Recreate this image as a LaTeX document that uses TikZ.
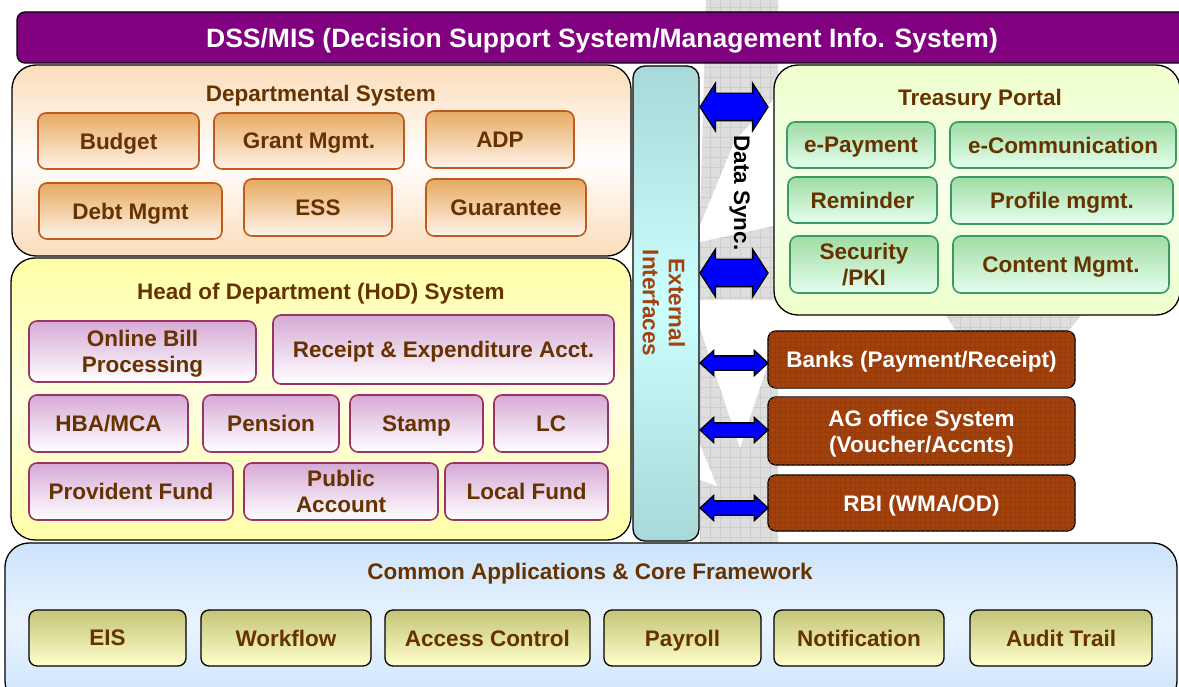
\documentclass[tikz,border=0pt]{standalone}
\usepackage{fontspec}
\setmainfont{Liberation Sans}
\usetikzlibrary{shapes.arrows,patterns.meta}
\definecolor{txtbrown}{HTML}{663300}
\definecolor{purplebar}{HTML}{800080}
\definecolor{deptfill}{HTML}{FBDDBA}
\definecolor{depttop}{HTML}{E6AA62}
\definecolor{deptbot}{HTML}{FFF4EA}
\definecolor{deptline}{HTML}{BF5A1E}
\definecolor{hodfill}{HTML}{FFFFA8}
\definecolor{hodtop}{HTML}{D6AAD6}
\definecolor{hodline}{HTML}{993366}
\definecolor{extfill}{HTML}{A8D8D8}
\definecolor{extmid}{HTML}{CCFFFF}
\definecolor{exttext}{HTML}{A3420F}
\definecolor{portalfill}{HTML}{EEFFCC}
\definecolor{tptop}{HTML}{9FDCA2}
\definecolor{tpbot}{HTML}{E6FFEE}
\definecolor{tpline}{HTML}{3A9966}
\definecolor{brownbox}{HTML}{A3410D}
\definecolor{browngrid}{HTML}{953A0B}
\definecolor{corefill}{HTML}{CCE3FA}
\definecolor{coremid}{HTML}{EAF4FF}
\definecolor{cbtop}{HTML}{C4C478}
\definecolor{cbbot}{HTML}{FFFFCC}
\definecolor{bandgrey}{HTML}{DEDEDE}
\definecolor{bandgrid}{HTML}{CDCDCD}

\begin{document}
\begin{tikzpicture}[x=1pt,y=-1pt,
  every node/.style={font=\fontsize{22.5}{26}\selectfont\bfseries,text=txtbrown,align=center,
    inner sep=0pt,text depth=0pt},
  sz/.style 2 args={minimum width=#1pt,minimum height=#2pt},
  panel/.style={draw=black,line width=1.3pt,rounded corners=24pt},
  deptbox/.style={draw=deptline,line width=1.6pt,rounded corners=8pt,top color=depttop,bottom color=deptbot},
  hodbox/.style={draw=hodline,line width=1.6pt,rounded corners=8pt,top color=hodtop,bottom color=white},
  tpbox/.style={draw=tpline,line width=1.6pt,rounded corners=8pt,top color=tptop,bottom color=tpbot},
  corebox/.style={draw=black,line width=1.3pt,rounded corners=8pt,top color=cbtop,bottom color=cbbot},
  outbox/.style={draw=black,line width=1.3pt,rounded corners=8pt,fill=brownbox,text=white,
    postaction={pattern={Hatch[angle=0,distance=5pt,line width=0.4pt]},pattern color=browngrid}},
  bigsync/.style={double arrow,draw=black,fill=blue,line width=1.3pt,minimum height=68pt,
    inner xsep=0pt,inner ysep=13pt,minimum width=46pt,double arrow head extend=10pt,double arrow tip angle=114},
  smallsync/.style={double arrow,draw=black,fill=blue,line width=1.3pt,minimum height=68pt,
    inner xsep=0pt,inner ysep=6.5pt,minimum width=24pt,double arrow head extend=5.5pt,double arrow tip angle=85},
  greyband/.style={fill=bandgrey,postaction={pattern={Hatch[angle=0,distance=10pt,line width=0.7pt]},pattern color=bandgrid}}]

\useasboundingbox (0,0) rectangle (1179,687);
\clip (0,0) rectangle (1179,687);

% background ribbon
\path[greyband] (706,0) -- (778,0) -- (778,95) -- (735,140) -- (700,225) -- cycle;
\path[greyband] (945,314) -- (1082,314) -- (1066,334) -- (958,334) -- cycle;
\path[greyband] (700,242) -- (778,225) -- (778,545) -- (700,545) -- cycle;
\fill[white] (700,300) -- (778,300) -- (778,333) -- (740,448) -- (700,328) -- cycle;
\fill[white] (700,445) -- (717,486) -- (700,480) -- cycle;

\node[panel,rounded corners=8pt,fill=purplebar,sz={1170}{51},text=white,
  font=\fontsize{26.5}{30}\selectfont\bfseries] (dss) at (602,37.5)
  {DSS/MIS (Decision Support System/Management Info. System)};

\node[panel,sz={619}{191},top color=deptfill,bottom color=deptfill,middle color=white] (dept) at (321.5,160.5) {};
\node (depttitle) at (321,93) {Departmental System};
\node[deptbox,sz={161}{56}] (budget) at (118.5,141) {Budget};
\node[deptbox,sz={190}{56}] (grant) at (309,141) {Grant Mgmt.};
\node[deptbox,sz={148}{57}] (adp) at (500,139.5) {ADP};
\node[deptbox,sz={183}{56}] (debt) at (130.5,211) {Debt Mgmt};
\node[deptbox,sz={148}{57}] (ess) at (318,207.5) {ESS};
\node[deptbox,sz={160}{57}] (guarantee) at (506,207.5) {Guarantee};

\node[panel,sz={620}{282},top color=hodfill,bottom color=hodfill,middle color=yellow!12] (hod) at (321,399) {};
\node (hodtitle) at (321,291) {Head of Department (HoD) System};
\node[hodbox,sz={227}{61}] (bill) at (142.5,351.5) {Online Bill\\Processing};
\node[hodbox,sz={341}{69}] (receipt) at (443.5,349.5) {Receipt \& Expenditure Acct.};
\node[hodbox,sz={159}{57}] (hba) at (108.5,423.5) {HBA/MCA};
\node[hodbox,sz={136}{57}] (pension) at (271,423.5) {Pension};
\node[hodbox,sz={133}{57}] (stamp) at (416.5,423.5) {Stamp};
\node[hodbox,sz={114}{57}] (lc) at (551,423.5) {LC};
\node[hodbox,sz={204}{57}] (pf) at (131,491.5) {Provident Fund};
\node[hodbox,sz={194}{57}] (public) at (341,491.5) {Public\\Account};
\node[hodbox,sz={163}{57}] (localfund) at (526.5,491.5) {Local Fund};

\node[panel,rounded corners=12pt,sz={66}{475},top color=extfill,bottom color=extfill,middle color=extmid] (ext) at (666,303.5) {};
\node[rotate=-90,text=exttext] (extlabel) at (664,303) {External\\Interfaces};

\node[panel,sz={406}{250},top color=portalfill,bottom color=portalfill,middle color=portalfill!40] (portal) at (977,190) {};
\node (portaltitle) at (980,97) {Treasury Portal};
\node[tpbox,sz={148}{46}] (epay) at (861,145) {e-Payment};
\node[tpbox,sz={226}{46}] (ecomm) at (1063,145) {e-Communication};
\node[tpbox,sz={149}{46}] (reminder) at (862.5,200) {Reminder};
\node[tpbox,sz={222}{47}] (profile) at (1062,200.5) {Profile mgmt.};
\node[tpbox,sz={148}{57}] (security) at (864,264.5) {Security\\/PKI};
\node[tpbox,sz={216}{57}] (content) at (1061,264.5) {Content Mgmt.};

\node[outbox,sz={307}{57}] (banks) at (921.5,359.5) {Banks (Payment/Receipt)};
\node[outbox,sz={307}{68}] (agoffice) at (921.5,431) {AG office System\\(Voucher/Accnts)};
\node[outbox,sz={307}{56}] (rbi) at (921.5,503) {RBI (WMA/OD)};

\node[bigsync] (syncup) at (734,107) {};
\node[bigsync] (syncdown) at (734,273) {};
\node[rotate=-90,text=black] (synclabel) at (742,193) {Data Sync.};
\node[smallsync] (syncbanks) at (734,363) {};
\node[smallsync] (syncag) at (734,430) {};
\node[smallsync] (syncrbi) at (734,508) {};

\node[panel,sz={1172}{162},top color=corefill,bottom color=corefill,middle color=coremid] (core) at (591,624) {};
\node (coretitle) at (590,571) {Common Applications \& Core Framework};
\node[corebox,sz={157}{56}] (eis) at (107.5,638) {EIS};
\node[corebox,sz={170}{56}] (workflow) at (286,638) {Workflow};
\node[corebox,sz={205}{56}] (access) at (487.5,638) {Access Control};
\node[corebox,sz={157}{56}] (payroll) at (682.5,638) {Payroll};
\node[corebox,sz={170}{56}] (notify) at (859,638) {Notification};
\node[corebox,sz={182}{56}] (audit) at (1061,638) {Audit Trail};
\end{tikzpicture}
\end{document}
